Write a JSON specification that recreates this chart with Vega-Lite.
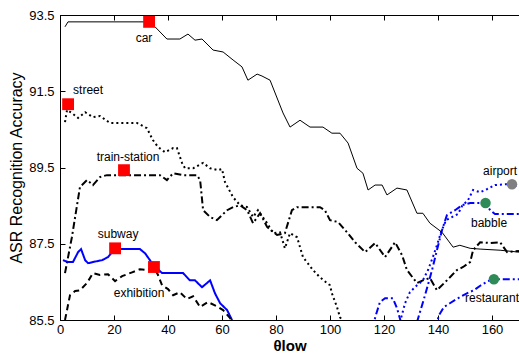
{
  "$schema": "https://vega.github.io/schema/vega-lite/v6.json",
  "width": 459,
  "height": 305,
  "autosize": "none",
  "padding": {"left": 60, "top": 15, "right": 0, "bottom": 36},
  "background": "white",
  "config": {
    "view": {"stroke": "black", "strokeWidth": 1},
    "axis": {"domainColor": "black", "tickColor": "black", "labelColor": "black", "titleColor": "black", "labelFont": "Liberation Sans", "titleFont": "Liberation Sans", "labelFontSize": 13, "grid": false, "domainWidth": 1, "tickWidth": 1, "zindex": 1}
  },
  "resolve": {"axis": {"x": "independent"}},
  "datasets": {
    "lines": [
      {"s":"car","x":1.85,"y":93.19},{"s":"car","x":2.96,"y":93.32},{"s":"car","x":33.0,"y":93.32},{"s":"car","x":35.2,"y":93.19},{"s":"car","x":39.6,"y":92.87},{"s":"car","x":44.4,"y":92.87},{"s":"car","x":47.4,"y":93.0},{"s":"car","x":50.0,"y":92.84},{"s":"car","x":52.6,"y":92.87},{"s":"car","x":56.7,"y":92.58},{"s":"car","x":60.4,"y":92.53},{"s":"car","x":64.1,"y":92.32},{"s":"car","x":67.4,"y":92.14},{"s":"car","x":69.6,"y":91.79},{"s":"car","x":73.0,"y":91.95},{"s":"car","x":74.8,"y":91.9},{"s":"car","x":77.8,"y":91.79},{"s":"car","x":80.7,"y":91.27},{"s":"car","x":82.6,"y":90.93},{"s":"car","x":85.2,"y":90.56},{"s":"car","x":88.9,"y":90.74},{"s":"car","x":92.6,"y":90.56},{"s":"car","x":97.4,"y":90.56},{"s":"car","x":100.7,"y":90.4},{"s":"car","x":103.7,"y":90.4},{"s":"car","x":106.7,"y":90.14},{"s":"car","x":110.0,"y":89.48},{"s":"car","x":112.2,"y":89.35},{"s":"car","x":114.1,"y":88.91},{"s":"car","x":116.7,"y":89.04},{"s":"car","x":119.3,"y":89.04},{"s":"car","x":121.1,"y":88.78},{"s":"car","x":124.8,"y":88.96},{"s":"car","x":128.5,"y":88.91},{"s":"car","x":132.2,"y":88.3},{"s":"car","x":134.4,"y":88.3},{"s":"car","x":137.0,"y":88.04},{"s":"car","x":141.5,"y":87.8},{"s":"car","x":145.6,"y":87.41},{"s":"car","x":148.1,"y":87.46},{"s":"car","x":151.9,"y":87.38},{"s":"car","x":155.6,"y":87.36},{"s":"car","x":163.0,"y":87.33},{"s":"car","x":170,"y":87.28},
      {"s":"street","x":1.85,"y":90.69},{"s":"street","x":2.6,"y":91.01},{"s":"street","x":4.4,"y":90.93},{"s":"street","x":6.7,"y":90.8},{"s":"street","x":9.3,"y":90.95},{"s":"street","x":12.2,"y":90.82},{"s":"street","x":14.8,"y":90.85},{"s":"street","x":18.5,"y":90.67},{"s":"street","x":22.2,"y":90.67},{"s":"street","x":28.5,"y":90.67},{"s":"street","x":32.2,"y":90.53},{"s":"street","x":34.4,"y":90.22},{"s":"street","x":36.3,"y":90.04},{"s":"street","x":38.9,"y":89.9},{"s":"street","x":41.9,"y":90.01},{"s":"street","x":43.3,"y":90.01},{"s":"street","x":45.2,"y":89.62},{"s":"street","x":46.3,"y":89.48},{"s":"street","x":49.3,"y":89.48},{"s":"street","x":53.0,"y":89.62},{"s":"street","x":55.6,"y":89.48},{"s":"street","x":58.5,"y":89.43},{"s":"street","x":60.0,"y":89.46},{"s":"street","x":61.1,"y":89.12},{"s":"street","x":64.1,"y":88.72},{"s":"street","x":66.7,"y":88.51},{"s":"street","x":69.3,"y":88.46},{"s":"street","x":71.5,"y":88.2},{"s":"street","x":73.3,"y":88.38},{"s":"street","x":76.7,"y":88.04},{"s":"street","x":78.9,"y":87.78},{"s":"street","x":81.5,"y":87.8},{"s":"street","x":83.3,"y":87.38},{"s":"street","x":85.2,"y":87.78},{"s":"street","x":87.8,"y":87.67},{"s":"street","x":90.0,"y":87.15},{"s":"street","x":93.7,"y":86.81},{"s":"street","x":96.3,"y":86.62},{"s":"street","x":98.9,"y":86.47},{"s":"street","x":100.0,"y":86.41},{"s":"street","x":100.7,"y":86.2},{"s":"street","x":102.6,"y":85.84},{"s":"street","x":103.7,"y":85.57},{"s":"street","x":105.6,"y":85.4},
      {"s":"train-station","x":1.85,"y":86.73},{"s":"train-station","x":4.4,"y":87.67},{"s":"train-station","x":7.4,"y":88.99},{"s":"train-station","x":10.0,"y":89.17},{"s":"train-station","x":12.2,"y":89.04},{"s":"train-station","x":14.8,"y":89.25},{"s":"train-station","x":17.4,"y":89.3},{"s":"train-station","x":22.2,"y":89.3},{"s":"train-station","x":29.6,"y":89.3},{"s":"train-station","x":37.0,"y":89.3},{"s":"train-station","x":39.6,"y":89.17},{"s":"train-station","x":41.9,"y":89.35},{"s":"train-station","x":45.6,"y":89.3},{"s":"train-station","x":50.7,"y":89.3},{"s":"train-station","x":51.9,"y":89.17},{"s":"train-station","x":53.0,"y":88.38},{"s":"train-station","x":55.6,"y":88.2},{"s":"train-station","x":58.1,"y":88.12},{"s":"train-station","x":61.9,"y":88.38},{"s":"train-station","x":64.1,"y":88.46},{"s":"train-station","x":66.7,"y":88.51},{"s":"train-station","x":69.3,"y":88.38},{"s":"train-station","x":71.5,"y":88.04},{"s":"train-station","x":74.1,"y":88.3},{"s":"train-station","x":76.7,"y":87.94},{"s":"train-station","x":80.4,"y":87.73},{"s":"train-station","x":83.3,"y":87.78},{"s":"train-station","x":85.9,"y":88.38},{"s":"train-station","x":87.8,"y":88.46},{"s":"train-station","x":96.3,"y":88.46},{"s":"train-station","x":98.1,"y":88.38},{"s":"train-station","x":100.0,"y":88.12},{"s":"train-station","x":103.0,"y":88.07},{"s":"train-station","x":106.3,"y":87.8},{"s":"train-station","x":109.3,"y":87.54},{"s":"train-station","x":113.0,"y":87.28},{"s":"train-station","x":116.7,"y":87.52},{"s":"train-station","x":120.4,"y":87.15},{"s":"train-station","x":124.1,"y":87.54},{"s":"train-station","x":126.7,"y":87.2},{"s":"train-station","x":128.5,"y":86.81},{"s":"train-station","x":132.2,"y":86.47},{"s":"train-station","x":134.4,"y":86.54},{"s":"train-station","x":137.0,"y":86.6},{"s":"train-station","x":139.6,"y":86.28},{"s":"train-station","x":143.3,"y":86.54},{"s":"train-station","x":147.0,"y":86.81},{"s":"train-station","x":149.3,"y":86.89},{"s":"train-station","x":151.9,"y":87.02},{"s":"train-station","x":153.0,"y":87.33},{"s":"train-station","x":155.6,"y":87.54},{"s":"train-station","x":159.3,"y":87.52},{"s":"train-station","x":163.0,"y":87.54},{"s":"train-station","x":165.6,"y":87.28},{"s":"train-station","x":170,"y":87.31},
      {"s":"subway","x":1.1,"y":87.07},{"s":"subway","x":3.0,"y":87.02},{"s":"subway","x":4.8,"y":87.02},{"s":"subway","x":6.7,"y":87.28},{"s":"subway","x":7.8,"y":87.36},{"s":"subway","x":9.3,"y":87.07},{"s":"subway","x":10.4,"y":86.99},{"s":"subway","x":12.2,"y":87.02},{"s":"subway","x":15.6,"y":87.07},{"s":"subway","x":17.8,"y":87.15},{"s":"subway","x":20.4,"y":87.38},{"s":"subway","x":23.0,"y":87.36},{"s":"subway","x":26.7,"y":87.36},{"s":"subway","x":29.6,"y":87.36},{"s":"subway","x":31.5,"y":87.25},{"s":"subway","x":34.1,"y":86.99},{"s":"subway","x":35.9,"y":86.86},{"s":"subway","x":37.8,"y":86.73},{"s":"subway","x":40.7,"y":86.73},{"s":"subway","x":45.6,"y":86.73},{"s":"subway","x":48.1,"y":86.54},{"s":"subway","x":50.0,"y":86.54},{"s":"subway","x":52.6,"y":86.36},{"s":"subway","x":55.6,"y":86.54},{"s":"subway","x":57.4,"y":86.2},{"s":"subway","x":59.3,"y":85.94},{"s":"subway","x":61.9,"y":85.76},{"s":"subway","x":63.7,"y":85.5},{"s":"subway","x":64.8,"y":85.36},
      {"s":"exhibition","x":1.85,"y":85.5},{"s":"exhibition","x":3.7,"y":86.15},{"s":"exhibition","x":5.6,"y":86.26},{"s":"exhibition","x":7.4,"y":86.28},{"s":"exhibition","x":10.0,"y":86.47},{"s":"exhibition","x":12.2,"y":86.73},{"s":"exhibition","x":14.8,"y":86.68},{"s":"exhibition","x":17.8,"y":86.7},{"s":"exhibition","x":20.4,"y":86.52},{"s":"exhibition","x":23.0,"y":86.65},{"s":"exhibition","x":26.7,"y":86.75},{"s":"exhibition","x":29.6,"y":86.83},{"s":"exhibition","x":32.2,"y":86.81},{"s":"exhibition","x":34.8,"y":86.89},{"s":"exhibition","x":36.3,"y":86.68},{"s":"exhibition","x":37.8,"y":86.41},{"s":"exhibition","x":40.0,"y":86.31},{"s":"exhibition","x":41.9,"y":86.15},{"s":"exhibition","x":44.4,"y":86.23},{"s":"exhibition","x":47.0,"y":86.05},{"s":"exhibition","x":49.3,"y":86.12},{"s":"exhibition","x":51.9,"y":85.84},{"s":"exhibition","x":54.8,"y":85.97},{"s":"exhibition","x":58.1,"y":85.86},{"s":"exhibition","x":60.4,"y":85.76},{"s":"exhibition","x":63.0,"y":85.55},{"s":"exhibition","x":63.7,"y":85.44},
      {"s":"airport","x":125.9,"y":85.44},{"s":"airport","x":127.8,"y":85.94},{"s":"airport","x":129.6,"y":86.23},{"s":"airport","x":132.2,"y":86.41},{"s":"airport","x":134.4,"y":86.54},{"s":"airport","x":136.3,"y":86.81},{"s":"airport","x":138.1,"y":87.15},{"s":"airport","x":139.6,"y":87.46},{"s":"airport","x":141.1,"y":87.8},{"s":"airport","x":143.0,"y":88.12},{"s":"airport","x":145.2,"y":88.2},{"s":"airport","x":147.4,"y":88.28},{"s":"airport","x":148.9,"y":88.49},{"s":"airport","x":151.1,"y":88.64},{"s":"airport","x":153.0,"y":88.91},{"s":"airport","x":155.6,"y":88.85},{"s":"airport","x":158.1,"y":88.93},{"s":"airport","x":161.1,"y":89.04},{"s":"airport","x":164.8,"y":89.06},{"s":"airport","x":167.4,"y":89.06},{"s":"airport","x":170,"y":88.99},
      {"s":"babble","x":132.2,"y":85.44},{"s":"babble","x":135.2,"y":86.15},{"s":"babble","x":137.8,"y":86.81},{"s":"babble","x":139.6,"y":87.33},{"s":"babble","x":141.5,"y":87.86},{"s":"babble","x":143.3,"y":88.25},{"s":"babble","x":146.3,"y":88.38},{"s":"babble","x":148.9,"y":88.51},{"s":"babble","x":151.9,"y":88.57},{"s":"babble","x":154.8,"y":88.57},{"s":"babble","x":157.8,"y":88.57},{"s":"babble","x":159.3,"y":88.38},{"s":"babble","x":161.1,"y":88.28},{"s":"babble","x":164.8,"y":88.28},{"s":"babble","x":170,"y":88.28},
      {"s":"restaurant","x":115.6,"y":85.27},{"s":"restaurant","x":117.0,"y":85.63},{"s":"restaurant","x":118.5,"y":85.97},{"s":"restaurant","x":120.4,"y":86.07},{"s":"restaurant","x":123.3,"y":86.07},{"s":"restaurant","x":124.8,"y":85.81},{"s":"restaurant","x":126.3,"y":85.44},{"s":"restaurant","x":127.8,"y":85.27},{"s":"restaurant","x":138.9,"y":85.27},{"s":"restaurant","x":140.4,"y":85.63},{"s":"restaurant","x":142.2,"y":85.84},{"s":"restaurant","x":144.4,"y":85.94},{"s":"restaurant","x":147.4,"y":86.07},{"s":"restaurant","x":150.7,"y":86.2},{"s":"restaurant","x":153.3,"y":86.28},{"s":"restaurant","x":155.9,"y":86.41},{"s":"restaurant","x":158.5,"y":86.52},{"s":"restaurant","x":160.7,"y":86.57},{"s":"restaurant","x":164.8,"y":86.57},{"s":"restaurant","x":170,"y":86.57}
    ],
    "markers": [
      {"s":"car","x":33.0,"y":93.32,"kind":"square"},
      {"s":"street","x":3.0,"y":91.16,"kind":"square"},
      {"s":"train-station","x":23.7,"y":89.43,"kind":"square"},
      {"s":"subway","x":20.4,"y":87.38,"kind":"square"},
      {"s":"exhibition","x":34.8,"y":86.89,"kind":"square"},
      {"s":"airport","x":167.4,"y":89.06,"kind":"gray"},
      {"s":"babble","x":157.6,"y":88.57,"kind":"green"},
      {"s":"restaurant","x":160.7,"y":86.57,"kind":"green"}
    ],
    "labels": [
      {"label":"car","x":31.1,"y":92.9},
      {"label":"street","x":10.4,"y":91.53},
      {"label":"train-station","x":25.2,"y":89.77},
      {"label":"subway","x":21.5,"y":87.75},
      {"label":"exhibition","x":29.3,"y":86.2},
      {"label":"airport","x":163.0,"y":89.41},
      {"label":"babble","x":158.9,"y":88.04},
      {"label":"restaurant","x":160.0,"y":86.07}
    ]
  },
  "encoding": {
    "x": {"field": "x", "type": "quantitative", "scale": {"domain": [0, 170], "nice": false, "zero": false}, "axis": null},
    "y": {"field": "y", "type": "quantitative", "scale": {"domain": [85.5, 93.5], "nice": false, "zero": false},
      "axis": {"values": [85.5, 87.5, 89.5, 91.5, 93.5], "format": ".1f", "tickSize": -5, "labelPadding": 11, "title": "ASR Recognition Accuracy", "titleFontSize": 16, "titleFontWeight": "normal", "titlePadding": 4, "labelFlush": false}}
  },
  "layer": [
    {
      "data": {"name": "lines"},
      "transform": [{"filter": "datum.s !== 'car'"}],
      "mark": {"type": "line", "strokeWidth": 2, "clip": true},
      "encoding": {
        "x": {"field": "x", "type": "quantitative",
          "axis": {"orient": "bottom", "values": [0, 20, 40, 60, 80, 100, 120, 140, 160], "tickSize": -5, "labelPadding": 8, "title": "θlow", "titleFontSize": 15, "titleFontWeight": "bold", "titlePadding": 2, "labelFlush": false}},
        "detail": {"field": "s"},
        "color": {"field": "s", "type": "nominal", "legend": null,
          "scale": {"domain": ["street", "train-station", "subway", "exhibition", "airport", "babble", "restaurant"], "range": ["#000000", "#000000", "#0000ff", "#000000", "#0000ff", "#0000ff", "#0000ff"]}},
        "strokeDash": {"field": "s", "type": "nominal", "legend": null,
          "scale": {"domain": ["street", "train-station", "subway", "exhibition", "airport", "babble", "restaurant"], "range": [[2, 3], [7, 3, 2, 3], [1, 0], [6, 4], [2, 3], [7, 3, 2, 3], [7, 3, 2, 3]]}}
      }
    },
    {
      "data": {"name": "lines"},
      "transform": [{"filter": "datum.s === 'car'"}],
      "mark": {"type": "line", "strokeWidth": 1, "color": "#000000", "clip": true},
      "encoding": {}
    },
    {
      "data": {"name": "markers"},
      "transform": [{"filter": "datum.kind === 'square'"}],
      "mark": {"type": "point", "shape": "square", "filled": true, "size": 140, "color": "#ff0000", "opacity": 1},
      "encoding": {}
    },
    {
      "data": {"name": "markers"},
      "transform": [{"filter": "datum.kind === 'green'"}],
      "mark": {"type": "point", "shape": "circle", "filled": true, "size": 110, "color": "#2e8b57", "opacity": 1},
      "encoding": {}
    },
    {
      "data": {"name": "markers"},
      "transform": [{"filter": "datum.kind === 'gray'"}],
      "mark": {"type": "point", "shape": "circle", "filled": true, "size": 110, "color": "#808080", "opacity": 1},
      "encoding": {}
    },
    {
      "data": {"name": "labels"},
      "mark": {"type": "text", "font": "Liberation Sans", "fontSize": 12, "color": "#000000", "align": "center", "baseline": "middle"},
      "encoding": {
        "text": {"field": "label"},
        "x": {"field": "x", "type": "quantitative", "axis": {"orient": "top", "values": [0, 20, 40, 60, 80, 100, 120, 140, 160], "tickSize": -5, "labels": false, "title": null}}
      }
    }
  ]
}
